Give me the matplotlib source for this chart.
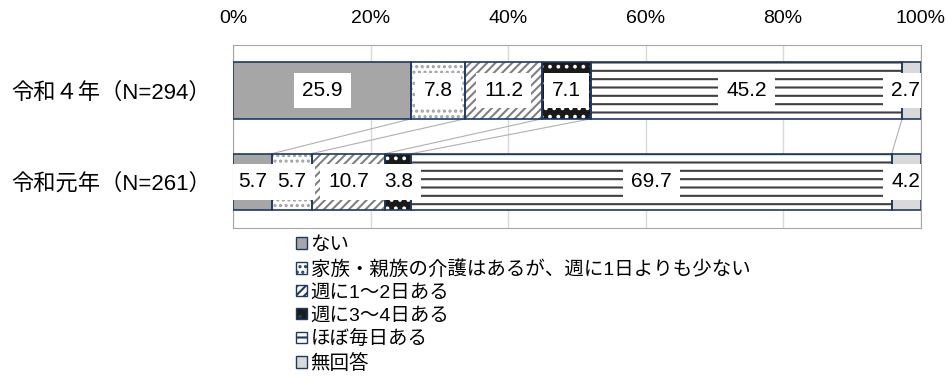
import numpy as np
import matplotlib
matplotlib.use('Agg')
import matplotlib.pyplot as plt
from matplotlib.patches import Patch

plt.rcParams['font.family'] = ['Liberation Sans', 'Noto Sans CJK JP', 'DejaVu Sans']
plt.rcParams['hatch.linewidth'] = 1.5

# data
years = ['令和４年（N=294）', '令和元年（N=261）']
categories = ['ない', '家族・親族の介護はあるが、週に1日よりも少ない', '週に1～2日ある',
              '週に3～4日ある', 'ほぼ毎日ある', '無回答']
r4 = [25.9, 7.8, 11.2, 7.1, 45.2, 2.7]
r1 = [5.7, 5.7, 10.7, 3.8, 69.7, 4.2]

# fill, hatch, hatch colour for each category
styles = [('#a6a6a6', None, None),
          ('white', '...', '#a0a0a0'),
          ('white', '////', '#808080'),
          ('#1a1a1a', '..', 'white'),
          ('white', '--', '#404040'),
          ('#d9d9d9', None, None)]
navy = '#1f3864'

fig = plt.figure(figsize=(9.46, 3.78), dpi=100)
ax = fig.add_axes([233/946, 150.3/378, 687.7/946, 183/378])

h = 0.62
rows = [r4, r1]
cums = []
for i, vals in enumerate(rows):
    v = np.array(vals) / sum(vals) * 100
    left = np.concatenate([[0], np.cumsum(v)[:-1]])
    cums.append(np.cumsum(v))
    for j in range(len(v)):
        fc, hatch, hc = styles[j]
        ax.barh(i, v[j], left=left[j], height=h, color=fc, hatch=hatch,
                edgecolor=hc if hc else fc, linewidth=0, zorder=2)
        ax.barh(i, v[j], left=left[j], height=h, fill=False,
                edgecolor=navy, linewidth=1.2, zorder=3)
        x, ha = left[j] + v[j]/2, 'center'
        if x > 97:  # keep label inside the plot area
            x, ha = 99.9, 'right'
        ax.text(x, i, f'{vals[j]:.1f}', ha=ha, va='center',
                fontsize=15, zorder=4, clip_on=True,
                bbox=dict(facecolor='white', edgecolor='none', boxstyle='square,pad=0.4'))

# series lines between the two bars
for j in range(len(categories) - 1):
    ax.plot([cums[0][j], cums[1][j]], [h/2, 1 - h/2], color='#b0b0b0', lw=0.8, zorder=1)

ax.set_xlim(0, 100)
ax.set_ylim(1.5, -0.5)
ax.set_xticks([0, 20, 40, 60, 80, 100])
ax.set_xticklabels(['0%', '20%', '40%', '60%', '80%', '100%'])
ax.xaxis.tick_top()
ax.tick_params(axis='x', length=0, pad=13, labelsize=14)
ax.set_yticks([0, 1])
ax.set_yticklabels(years, fontsize=16)
ax.tick_params(axis='y', length=0, pad=16)
ax.grid(axis='x', color='#d9d9d9', lw=1, zorder=0)
ax.set_axisbelow(True)
for s in ax.spines.values():
    s.set_color('#a6a6a6')

handles = [Patch(facecolor=fc, edgecolor=navy, hatch=hatch, linewidth=1) for fc, hatch, hc in styles]
fig.legend(handles, categories, loc='upper left', bbox_to_anchor=(296/946, 141/378),
           frameon=False, fontsize=14, handlelength=0.55, handleheight=0.55,
           handletextpad=0.2, labelspacing=0.3, borderpad=0, borderaxespad=0)

fig.savefig('out.png', dpi=100)
